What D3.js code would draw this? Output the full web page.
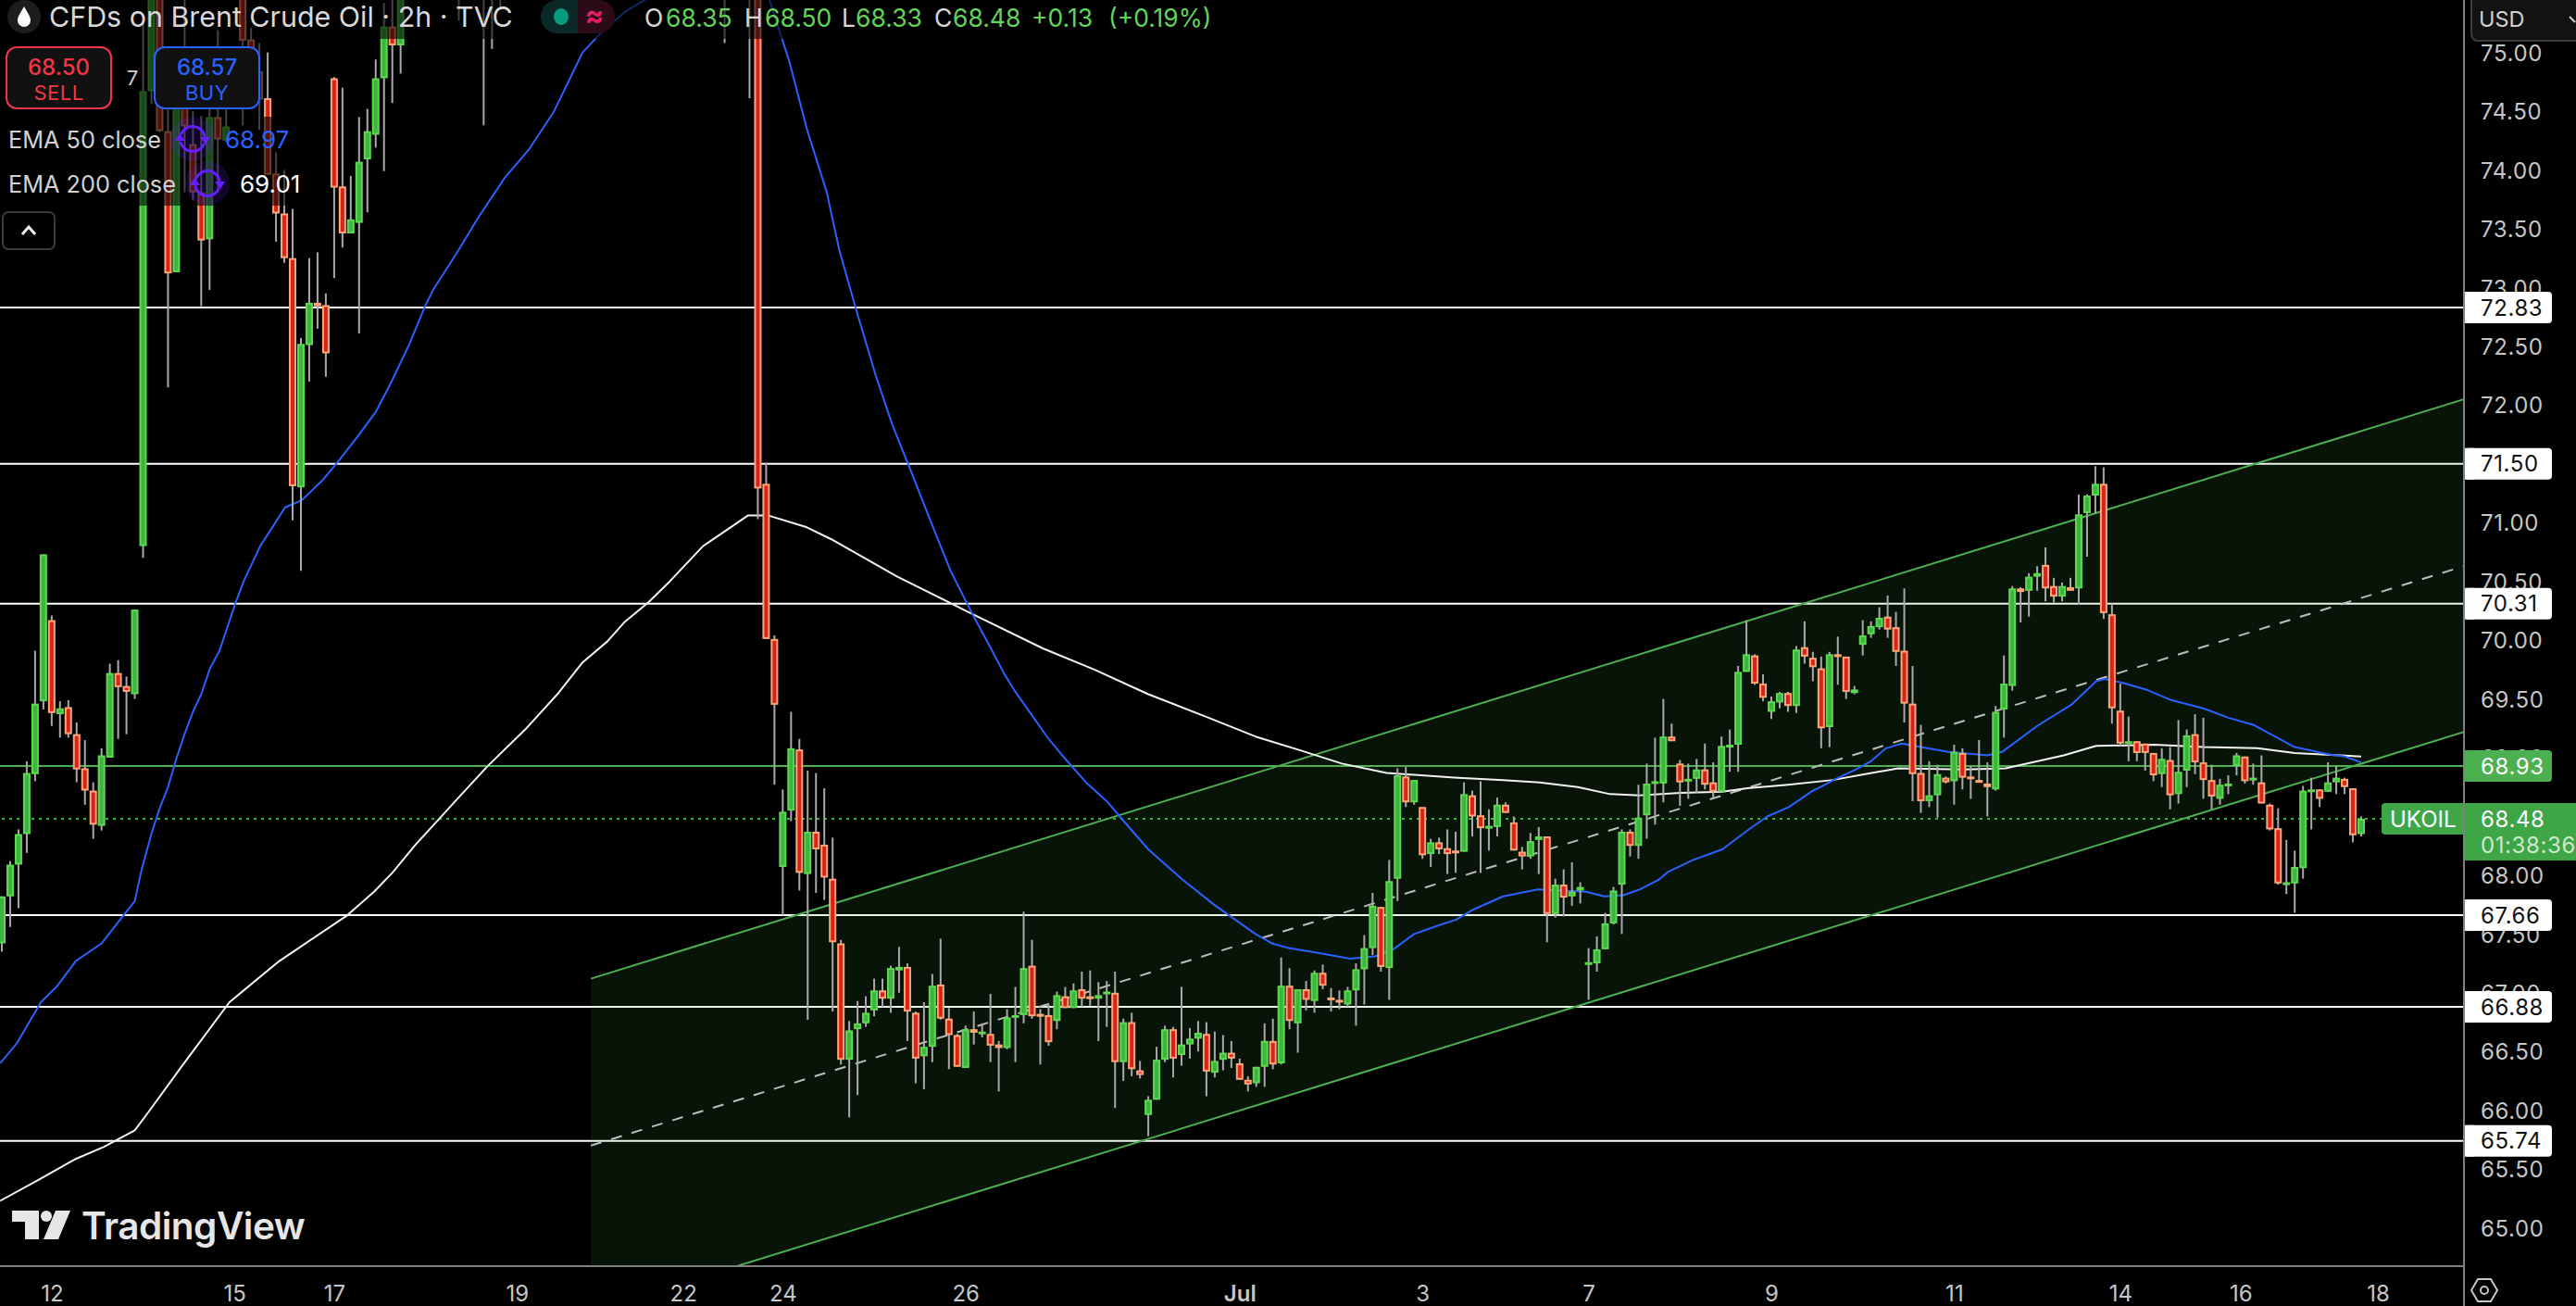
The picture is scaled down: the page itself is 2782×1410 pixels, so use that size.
<!DOCTYPE html>
<html>
<head>
<meta charset="utf-8">
<title>UKOIL 2h</title>
<script src="https://cdn.jsdelivr.net/npm/d3@7"></script>
<style>
  html, body { margin: 0; background: #000; }
  svg { display: block; }
  text { font-family: Inter, "Noto Sans", sans-serif; }
</style>
</head>
<body>
<div id="chart"></div>
<script>
// candles, 2h bars, oldest first. null = bar sits above the visible range
var opens = [
  67.42,67.82,68.09,68.35,68.86,69.48,70.17,69.37,69.43,69.20,
  68.91,68.72,68.42,69.00,69.72,69.61,69.54,70.80,74.67,75.52,
  74.33,73.13,74.97,74.22,73.81,73.41,74.45,74.25,74.89,75.52,
  75.11,74.84,74.61,73.97,73.63,73.25,71.30,72.51,72.87,72.85,
  74.78,73.86,73.46,73.55,74.09,74.30,74.78,75.22,75.06,null,
  null,null,null,null,null,75.90,null,null,76.00,75.80,
  75.90,null,null,null,null,null,null,null,null,null,
  null,null,null,null,null,null,null,null,null,null,
  null,null,null,null,null,null,null,76.40,null,null,
  76.30,76.50,71.33,70.01,68.07,68.55,69.07,68.01,68.37,68.26,
  67.97,67.42,66.43,66.69,66.74,66.85,67.02,66.95,67.19,67.22,
  66.83,66.46,66.54,67.07,66.78,66.64,66.36,66.69,66.66,66.65,
  66.56,66.53,66.80,66.81,67.23,66.82,66.81,66.76,66.97,66.87,
  67.03,66.97,66.95,67.00,67.00,66.41,66.75,66.34,65.96,66.09,
  66.43,66.69,66.47,66.56,66.61,66.65,66.32,66.43,66.49,66.40,
  66.26,66.23,66.37,66.59,66.40,67.06,66.74,67.03,66.93,67.17,
  66.96,66.94,66.90,67.02,67.20,67.38,67.73,67.21,67.97,68.84,
  68.62,68.58,68.18,68.28,68.23,68.21,68.20,68.68,68.51,68.40,
  68.41,68.60,68.45,68.20,68.16,68.30,68.33,67.67,67.92,67.82,
  67.87,67.25,67.25,67.37,67.59,67.92,68.37,68.25,68.51,68.79,
  68.78,69.18,68.95,68.81,68.82,68.90,68.79,68.71,69.09,69.11,
  69.73,69.87,69.63,69.39,69.47,69.55,69.44,69.94,69.85,69.76,
  69.26,69.88,69.86,69.55,69.96,70.05,70.11,70.20,70.11,69.91,
  69.46,68.87,68.63,68.68,68.83,68.80,69.04,68.84,68.81,68.78,
  68.73,69.41,69.61,70.44,70.42,70.54,70.64,70.46,70.37,70.45,
  70.44,71.08,71.23,71.33,70.22,69.40,69.13,69.14,69.12,69.04,
  68.86,68.98,68.69,68.89,69.20,68.96,68.81,68.65,68.77,68.93,
  69.01,68.82,68.79,68.60,68.40,67.93,67.93,68.06,68.72,68.73,
  68.71,68.79,68.82,68.74,68.35
];
var highs = [
  67.82,68.12,68.39,68.97,69.91,70.73,70.21,69.48,69.49,69.30,
  69.15,68.79,69.08,69.80,69.83,69.69,70.26,75.25,75.49,75.52,
  74.52,74.82,75.45,74.50,74.46,74.52,75.19,74.52,75.05,75.52,
  75.21,75.08,75.00,74.15,74.00,73.67,72.57,73.25,73.30,72.95,
  74.79,74.70,73.95,74.45,74.52,74.94,75.42,75.49,75.52,null,
  null,null,null,null,null,76.40,null,null,76.30,76.20,
  76.40,null,null,null,null,null,null,null,null,null,
  null,null,null,null,null,null,null,null,null,null,
  null,null,null,null,null,null,null,76.60,null,null,
  76.70,76.60,71.51,70.04,68.73,69.39,69.16,68.89,68.87,68.74,
  68.32,67.45,66.76,66.93,66.97,67.12,67.12,67.23,67.39,67.25,
  66.84,66.92,67.16,67.46,66.87,66.65,66.72,66.84,66.74,66.99,
  66.59,66.86,67.05,67.69,67.45,66.86,66.90,67.01,67.05,67.08,
  67.18,67.19,67.09,67.10,67.18,66.78,66.83,66.42,66.12,66.54,
  66.72,66.71,67.05,66.70,66.76,66.75,66.67,66.64,66.59,66.44,
  66.29,66.37,66.74,66.78,67.30,67.21,67.03,67.10,67.19,67.24,
  67.04,67.02,67.05,67.25,67.49,67.85,67.73,68.13,68.91,68.92,
  68.81,68.58,68.31,68.32,68.39,68.37,68.79,68.72,68.80,68.56,
  68.66,68.62,68.50,68.24,68.36,68.41,68.33,67.97,68.05,68.11,
  67.94,67.38,67.48,67.68,67.90,68.39,68.39,68.77,68.95,69.17,
  69.50,69.29,68.98,68.95,68.99,69.12,68.96,69.18,69.24,69.78,
  70.17,69.88,69.71,69.52,69.56,69.56,69.95,70.16,69.90,69.86,
  69.90,70.03,69.86,69.61,70.17,70.16,70.28,70.38,70.24,70.44,
  69.78,69.28,68.97,68.94,68.84,69.11,69.08,68.93,69.15,68.96,
  69.44,69.87,70.46,70.45,70.57,70.63,70.79,70.53,70.49,70.53,
  71.24,71.24,71.48,71.47,70.31,69.63,69.35,69.14,69.12,69.04,
  69.08,69.09,69.32,69.24,69.37,69.34,68.94,68.82,68.85,69.04,
  69.01,68.95,69.02,68.61,68.57,68.30,68.21,68.76,68.83,68.73,
  68.96,68.93,68.83,68.74,68.50
];
var lows = [
  67.35,67.56,67.72,68.19,68.80,69.41,69.27,69.17,69.17,68.79,
  68.60,68.31,68.38,69.00,69.16,69.20,69.50,70.70,74.56,74.32,
  72.15,73.13,73.81,73.74,72.84,72.98,73.81,74.24,74.52,74.38,
  74.78,74.34,73.96,73.39,73.21,71.02,70.59,72.20,72.65,72.24,
  73.08,73.34,73.46,72.61,73.64,74.19,73.99,74.57,74.82,null,
  null,null,null,null,null,75.27,null,null,74.38,75.03,
  75.37,null,null,null,null,null,null,null,null,null,
  null,null,null,null,null,null,null,null,null,null,
  null,null,null,null,null,null,null,75.08,null,null,
  74.61,71.03,70.01,68.77,67.66,68.46,67.87,66.77,67.85,67.79,
  66.84,66.39,65.94,66.13,66.71,66.80,66.88,66.83,67.00,66.59,
  66.23,66.18,66.41,66.77,66.35,66.37,66.36,66.56,66.62,66.41,
  66.16,66.52,66.41,66.74,66.78,66.39,66.55,66.69,66.87,66.87,
  66.88,66.89,66.59,66.71,66.02,66.25,66.29,66.27,65.78,66.09,
  66.41,66.28,66.38,66.44,66.50,66.12,66.28,66.34,66.36,66.26,
  66.16,66.20,66.20,66.35,66.39,66.69,66.49,66.85,66.83,67.03,
  66.84,66.86,66.88,66.72,66.90,67.32,67.18,66.94,67.78,68.58,
  68.60,68.14,68.07,68.18,68.01,68.02,68.20,68.33,68.02,68.21,
  68.33,68.53,68.21,68.05,68.14,68.01,67.43,67.64,67.65,67.74,
  67.76,66.94,67.18,67.37,67.58,67.50,68.16,68.14,68.31,68.43,
  68.62,69.14,68.59,68.65,68.70,68.73,68.66,68.71,68.88,68.88,
  69.73,69.62,69.48,69.33,69.42,69.39,69.38,69.80,69.65,69.08,
  69.09,69.62,69.50,69.54,69.87,70.02,70.09,70.02,69.78,69.30,
  68.63,68.53,68.58,68.49,68.78,68.60,68.73,68.65,68.79,68.50,
  68.72,69.17,69.57,70.15,70.20,70.42,70.33,70.32,70.33,70.42,
  70.30,70.71,71.08,70.18,69.29,69.10,68.97,68.97,68.89,68.80,
  68.75,68.56,68.61,68.75,68.86,68.65,68.56,68.60,68.69,68.85,
  68.78,68.77,68.61,68.38,67.92,67.84,67.68,67.97,68.39,68.58,
  68.71,68.69,68.69,68.28,68.33
];
var closes = [
  67.82,68.09,68.35,68.87,69.46,70.73,69.38,69.42,69.20,68.90,
  68.72,68.43,69.02,69.72,69.60,69.56,70.26,74.67,75.49,74.33,
  73.12,74.82,74.37,73.81,73.40,74.45,74.26,74.37,74.58,75.10,
  74.83,74.60,73.96,73.63,73.25,71.31,72.52,72.87,72.84,72.44,
  73.85,73.46,73.58,74.07,74.33,74.78,75.22,75.06,75.52,null,
  null,null,null,null,null,76.10,null,null,75.80,75.90,
  76.00,null,null,null,null,null,null,null,null,null,
  null,null,null,null,null,null,null,null,null,null,
  null,null,null,null,null,null,null,76.20,null,null,
  76.50,71.29,70.01,69.45,68.54,69.08,68.02,68.37,68.22,67.98,
  67.43,66.43,66.68,66.74,66.83,67.02,66.95,67.21,67.22,66.84,
  66.44,66.54,67.06,66.78,66.64,66.37,66.69,66.66,66.67,66.55,
  66.53,66.79,66.81,67.21,66.80,66.80,66.58,66.98,66.87,67.02,
  66.95,66.96,66.98,67.01,66.41,66.75,66.35,66.30,66.09,66.43,
  66.69,66.44,66.56,66.61,66.66,66.33,66.42,66.49,66.44,66.26,
  66.22,66.37,66.59,66.39,67.06,66.76,67.03,66.94,67.17,67.06,
  66.94,66.92,67.02,67.20,67.38,67.74,67.22,67.95,68.85,68.62,
  68.81,68.17,68.28,68.22,68.18,68.20,68.69,68.50,68.40,68.42,
  68.60,68.53,68.21,68.16,68.29,68.33,67.67,67.92,67.81,67.86,
  67.90,67.26,67.37,67.59,67.87,68.37,68.25,68.49,68.78,68.80,
  69.18,69.14,68.79,68.82,68.90,68.77,68.71,69.10,69.11,69.73,
  69.88,69.63,69.51,69.48,69.55,69.44,69.92,69.86,69.77,69.25,
  69.88,69.86,69.56,69.58,70.04,70.12,70.19,70.09,69.90,69.46,
  68.86,68.63,68.68,68.86,68.79,69.05,68.83,68.82,68.79,68.75,
  69.39,69.63,70.44,70.41,70.54,70.57,70.44,70.37,70.46,70.42,
  71.07,71.23,71.33,70.23,69.42,69.12,69.14,69.04,69.04,68.85,
  68.99,68.68,68.88,69.19,68.96,68.81,68.67,68.77,68.78,69.02,
  68.80,68.83,68.61,68.39,67.93,67.94,68.07,68.72,68.73,68.65,
  68.79,68.83,68.75,68.34,68.48
];

// EMA lines at these bar positions
var ema50Bars = [-0.2,1.8,4.7,6.7,8.9,12,14,16,16.8,18,19,20,21,22,23,24,25,26.2,28.1,29.1,31.1,34.1,36.1,38.6,40.6,42.8,45,46.7,49,51,52,55,57.3,60.5,63.4,66.4,68.4,69.9,71.9,74.9,78.4,85.6,92.3,94.8,96.9,99.3,100.8,102.8,105.2,107.2,109.2,111.7,114.2,116.7,119.2,120.6,122,124.1,126,128,130.5,133,134.8,138,142,145.9,150.9,152.9,154.9,158.4,162.3,165.3,167.5,170,172.8,175,177.2,180.7,184.9,187.7,190.7,192.9,195.2,197.2,199.4,200.6,203.6,207.1,210.1,212.5,215.1,218,219.2,220.5,223.2,225,226.8,228.7,231,234.3,239,240.8,245,249.1,252.1,253.1,255.1,258.1,261.1,265,268,271,273.1,276,280,282,284];
var ema50Values = [66.40,66.57,66.92,67.06,67.27,67.42,67.60,67.78,68.04,68.35,68.57,68.75,68.99,69.20,69.39,69.54,69.75,69.91,70.31,70.50,70.80,71.13,71.19,71.36,71.53,71.73,71.94,72.17,72.51,72.85,72.99,73.32,73.59,73.93,74.17,74.49,74.78,75.00,75.15,75.34,75.49,75.92,75.47,74.92,74.35,73.81,73.32,72.82,72.25,71.83,71.48,71.03,70.59,70.24,69.91,69.72,69.56,69.35,69.16,68.99,68.79,68.63,68.48,68.22,67.97,67.75,67.50,67.42,67.38,67.34,67.29,67.31,67.37,67.50,67.57,67.62,67.71,67.82,67.88,67.87,67.86,67.82,67.83,67.88,67.96,68.03,68.13,68.22,68.38,68.50,68.58,68.72,68.76,68.81,68.90,68.97,69.08,69.12,69.09,69.05,69.02,69.05,69.27,69.45,69.65,69.67,69.64,69.58,69.49,69.42,69.34,69.28,69.20,69.09,69.03,69.01,68.96];
var ema200Bars = [-0.2,4.2,8.7,12.3,16,17.7,21.5,27.4,33.4,41.6,44.8,47,49.8,52,55.1,58.5,63,67,69.9,72.9,74.9,77.8,80.4,84.4,89.8,92.3,96.9,99.8,107.8,116.3,125.3,131.5,138,144.9,150.9,156.4,161.3,166.7,174.8,180.7,185.1,189.7,193.6,197.2,202.1,207.1,210.1,215,220.4,224.3,228.3,236.2,241.2,248.2,252.1,259.1,265,271.5,276,284];
var ema200Values = [65.23,65.40,65.58,65.69,65.83,65.99,66.36,66.92,67.27,67.66,67.86,68.02,68.26,68.43,68.67,68.93,69.24,69.55,69.81,69.99,70.15,70.32,70.50,70.80,71.06,71.06,70.96,70.86,70.54,70.24,69.93,69.75,69.54,69.35,69.18,69.06,68.95,68.87,68.83,68.81,68.79,68.75,68.69,68.68,68.70,68.71,68.74,68.77,68.81,68.86,68.91,68.90,68.91,69.02,69.10,69.11,69.09,69.08,69.04,69.01];

// drawn levels and the parallel channel
var whiteLevels = [72.83, 71.50, 70.31, 67.66, 66.88, 65.74];
var greenLevels = [68.93];
var lastPrice = 68.48;
var channelBars = [70.9, 296.4];
var channelUpper = [67.12, 72.05];
var channelMiddle = [65.70, 70.63];
var channelLower = [64.29, 69.22];

// axis labels
var priceTicks = [75,74.5,74,73.5,73,72.5,72,71.5,71,70.5,70,69.5,69,68.5,68,67.5,67,66.5,66,65.5,65];
var timeTickBars = [6,28,40,62,82,94,116,149,171,191,213,235,255,269.5,286];
var timeTickLabels = ['12','15','17','19','22','24','26','Jul','3','7','9','11','14','16','18'];

// header readout
var ohlcLabels = ['O','H','L','C'];
var ohlcValues = ['68.35','68.50','68.33','68.48'];
var changeLabels = ['+0.13','(+0.19%)'];

var width = 2782, height = 1410, plotRight = 2661, plotBottom = 1367;

var x = d3.scaleLinear().domain([0, 284]).range([2, 2550]);
var y = d3.scaleLinear().domain([75.446, 64.674]).range([0, plotBottom]);

var svg = d3.select('#chart').append('svg').attr('width', width).attr('height', height);

svg.append('defs').append('clipPath').attr('id', 'plot')
  .append('rect').attr('width', plotRight).attr('height', plotBottom);

var plot = svg.append('g').attr('clip-path', 'url(#plot)');

// level lines go under the channel fill, that is why they look tinted inside it
plot.selectAll('.level').data(whiteLevels).enter().append('line')
  .attr('x1', 0).attr('x2', plotRight)
  .attr('y1', y).attr('y2', y)
  .attr('stroke', '#fff').attr('stroke-width', 2);

plot.selectAll('.glevel').data(greenLevels).enter().append('line')
  .attr('x1', 0).attr('x2', plotRight)
  .attr('y1', y).attr('y2', y)
  .attr('stroke', '#4caf50').attr('stroke-width', 2);

plot.append('line')
  .attr('x1', 2).attr('x2', 2572)
  .attr('y1', y(lastPrice)).attr('y2', y(lastPrice))
  .attr('stroke', '#3fa648').attr('stroke-width', 2)
  .attr('stroke-dasharray', '3 5');

// channel
var channelArea = d3.area()
  .x(function(d) { return x(d); })
  .y0(function(d, i) { return y(channelUpper[i]); })
  .y1(function(d, i) { return y(channelLower[i]); });

plot.append('path').attr('d', channelArea(channelBars))
  .attr('fill', '#4caf50').attr('fill-opacity', 0.115);

function channelLine(values, colour, dash) {
  var line = d3.line()
    .x(function(d) { return x(d); })
    .y(function(d, i) { return y(values[i]); });
  plot.append('path').attr('d', line(channelBars))
    .attr('fill', 'none').attr('stroke', colour).attr('stroke-width', 2)
    .attr('stroke-dasharray', dash);
}
channelLine(channelUpper, '#4caf50', null);
channelLine(channelLower, '#4caf50', null);
channelLine(channelMiddle, '#bdbdbd', '12 11');

// EMAs
function emaLine(bars, values, colour) {
  var line = d3.line()
    .x(function(d) { return x(d); })
    .y(function(d, i) { return y(values[i]); });
  plot.append('path').attr('d', line(bars))
    .attr('fill', 'none').attr('stroke', colour).attr('stroke-width', 2)
    .attr('stroke-linejoin', 'round');
}
emaLine(ema200Bars, ema200Values, '#f2f2f2');
emaLine(ema50Bars, ema50Values, '#2962ff');

// candles
var barIndex = d3.range(opens.length).filter(function(i) { return opens[i] !== null; });

plot.selectAll('.wick').data(barIndex).enter().append('line')
  .attr('x1', function(i) { return x(i); })
  .attr('x2', function(i) { return x(i); })
  .attr('y1', function(i) { return y(highs[i]); })
  .attr('y2', function(i) { return y(lows[i]); })
  .attr('stroke', '#a9a9a9').attr('stroke-width', 2);

plot.selectAll('.body').data(barIndex).enter().append('rect')
  .attr('x', function(i) { return x(i) - 3; })
  .attr('width', 6)
  .attr('y', function(i) { return y(Math.max(opens[i], closes[i])) + 1; })
  .attr('height', function(i) { return Math.max(1, Math.abs(y(opens[i]) - y(closes[i])) - 2); })
  .attr('fill', function(i) { return closes[i] >= opens[i] ? '#3fb342' : '#d9221a'; })
  .attr('stroke', function(i) { return closes[i] >= opens[i] ? '#5cd94f' : '#ffa678'; })
  .attr('stroke-width', 2);

// legend backdrop dims whatever runs beneath the header
var dim = svg.append('g').attr('fill', '#000').attr('fill-opacity', 0.6);
dim.append('rect').attr('width', 1330).attr('height', 42);
dim.append('rect').attr('y', 42).attr('width', 285).attr('height', 84);
dim.append('rect').attr('y', 126).attr('width', 335).attr('height', 96);

// axes
var yAxis = d3.axisRight(y).tickValues(priceTicks).tickFormat(d3.format('.2f')).tickSize(0).tickPadding(18);
var xAxis = d3.axisBottom(x).tickValues(timeTickBars)
  .tickFormat(function(d, i) { return timeTickLabels[i]; }).tickSize(0).tickPadding(18);

var yG = svg.append('g').attr('transform', 'translate(' + plotRight + ',0)').call(yAxis);
var xG = svg.append('g').attr('transform', 'translate(0,' + plotBottom + ')').call(xAxis);
yG.select('.domain').remove();
xG.select('.domain').remove();
yG.selectAll('text').attr('font-size', 24).attr('fill', '#c6c6c6').attr('letter-spacing', 0.6)
  .style('font-family', 'Inter').attr('dy', '0.36em');
xG.selectAll('text').attr('font-size', 24).attr('fill', '#c6c6c6')
  .style('font-family', 'Inter').attr('font-weight', function(d, i) { return timeTickLabels[i] === 'Jul' ? 600 : 400; })
  .attr('y', 38).attr('dy', 0);

svg.append('line').attr('x1', plotRight).attr('x2', plotRight).attr('y1', 0).attr('y2', height)
  .attr('stroke', '#808080').attr('stroke-width', 2);
svg.append('line').attr('x1', 0).attr('x2', plotRight).attr('y1', plotBottom).attr('y2', plotBottom)
  .attr('stroke', '#808080').attr('stroke-width', 2);

// price tags on the axis
function priceTag(value, fill, colour) {
  var g = svg.append('g').attr('transform', 'translate(2662,' + y(value) + ')');
  g.append('rect').attr('y', -17).attr('width', 94).attr('height', 34).attr('rx', 4).attr('fill', fill);
  g.append('rect').attr('y', -17).attr('width', 10).attr('height', 34).attr('fill', fill);
  g.append('text').attr('x', 17).attr('dy', '0.36em')
    .attr('font-size', 24).attr('letter-spacing', 0.6).attr('fill', colour)
    .text(d3.format('.2f')(value));
}
whiteLevels.forEach(function(d) { priceTag(d, '#fff', '#111'); });
greenLevels.forEach(function(d) { priceTag(d, '#4caf50', '#fff'); });

// last price block with the symbol tag and countdown
var lastY = y(lastPrice);
svg.append('rect').attr('x', 2662).attr('y', lastY - 17).attr('width', 120).attr('height', 62).attr('fill', '#3fa648');
svg.append('rect').attr('x', 2572).attr('y', lastY - 17).attr('width', 88).attr('height', 34).attr('rx', 4).attr('fill', '#3fa648');
svg.append('rect').attr('x', 2600).attr('y', lastY - 17).attr('width', 60).attr('height', 34).attr('fill', '#3fa648');
svg.append('text').attr('x', 2581).attr('y', lastY).attr('dy', '0.36em')
  .attr('font-size', 24).attr('fill', '#fff').text('UKOIL');
svg.append('text').attr('x', 2679).attr('y', lastY).attr('dy', '0.36em')
  .attr('font-size', 24).attr('letter-spacing', 0.6).attr('fill', '#fff').text(d3.format('.2f')(lastPrice));
svg.append('text').attr('x', 2679).attr('y', lastY + 28).attr('dy', '0.36em')
  .attr('font-size', 24).attr('letter-spacing', 0.6).attr('fill', '#cfe8d0').text('01:38:36');

// USD box
svg.append('path').attr('d', 'M2782,44 H2677 Q2669,44 2669,36 V-2 H2782')
  .attr('fill', '#121212').attr('stroke', '#3d3d3d').attr('stroke-width', 2);
svg.append('text').attr('x', 2677).attr('y', 21).attr('dy', '0.36em')
  .attr('font-size', 23.5).attr('fill', '#d0d0d0').text('USD');
svg.append('path').attr('d', 'M2775,18 L2781,24').attr('stroke', '#d0d0d0').attr('stroke-width', 2).attr('fill', 'none');

// settings hexagon, bottom right
var hexPoints = d3.range(6).map(function(k) {
  var a = Math.PI / 3 * k;
  return [2683 + 14 * Math.cos(a), 1393 + 14 * Math.sin(a)];
});
svg.append('path').attr('d', d3.line()(hexPoints) + 'Z').attr('fill', 'none').attr('stroke', '#c6c6c6').attr('stroke-width', 2);
svg.append('circle').attr('cx', 2683).attr('cy', 1393).attr('r', 4).attr('fill', 'none').attr('stroke', '#c6c6c6').attr('stroke-width', 2);

// header
svg.append('circle').attr('cx', 26).attr('cy', 18).attr('r', 18).attr('fill', '#1d1d1d');
svg.append('path').attr('d', 'M26,7 C30,14 33,18 33,22 A7,7 0 0 1 19,22 C19,18 22,14 26,7 Z').attr('fill', '#fff');
svg.append('text').attr('x', 53).attr('y', 29).attr('font-size', 30.4).attr('fill', '#d8d8d8')
  .text('CFDs on Brent Crude Oil · 2h · TVC');

svg.append('path').attr('d', 'M624,0 H602 A18,18 0 0 0 602,36 H624 Z').attr('fill', '#0b2a27');
svg.append('path').attr('d', 'M624,0 H646 A18,18 0 0 1 646,36 H624 Z').attr('fill', '#2c0a18');
svg.append('ellipse').attr('cx', 606).attr('cy', 18).attr('rx', 8).attr('ry', 9).attr('fill', '#089981');
svg.append('text').attr('x', 642).attr('y', 19).attr('text-anchor', 'middle').attr('dominant-baseline', 'middle')
  .attr('font-size', 30).attr('font-weight', 700).attr('fill', '#e91e63').text('≈');

var ohlcLabelX = [696, 804, 909, 1009];
var ohlcValueX = [719, 826, 924, 1029];
ohlcLabels.forEach(function(d, i) {
  svg.append('text').attr('x', ohlcLabelX[i]).attr('y', 29).attr('font-size', 26.5).attr('fill', '#d8d8d8').text(d);
  svg.append('text').attr('x', ohlcValueX[i]).attr('y', 29).attr('font-size', 26.5).attr('fill', '#62d458').text(ohlcValues[i]);
});
var changeX = [1114, 1197];
changeLabels.forEach(function(d, i) {
  svg.append('text').attr('x', changeX[i]).attr('y', 29).attr('font-size', 26.5).attr('fill', '#62d458').text(d);
});

// buy and sell buttons
function tradeButton(left, colour, price, label) {
  svg.append('rect').attr('x', left).attr('y', 51).attr('width', 113).attr('height', 66).attr('rx', 11)
    .attr('fill', '#111').attr('stroke', colour).attr('stroke-width', 2);
  svg.append('text').attr('x', left + 56.5).attr('y', 72).attr('dy', '0.36em').attr('text-anchor', 'middle')
    .attr('font-size', 24).attr('font-weight', 500).attr('fill', colour).text(price);
  svg.append('text').attr('x', left + 56.5).attr('y', 100).attr('dy', '0.36em').attr('text-anchor', 'middle')
    .attr('font-size', 22).attr('letter-spacing', 0.5).attr('fill', colour).text(label);
}
tradeButton(7, '#f23645', '68.50', 'SELL');
tradeButton(167, '#2962ff', '68.57', 'BUY');
svg.append('text').attr('x', 143).attr('y', 84).attr('dy', '0.36em').attr('text-anchor', 'middle')
  .attr('font-size', 22).attr('fill', '#cfcfcf').text('7');

// indicator rows
function spinner(cx, cy) {
  svg.append('circle').attr('cx', cx).attr('cy', cy).attr('r', 24).attr('fill', '#6a1fff').attr('fill-opacity', 0.16);
  var arc = d3.arc().innerRadius(12).outerRadius(15);
  var g = svg.append('g').attr('transform', 'translate(' + cx + ',' + cy + ')').attr('fill', '#651fff');
  g.append('path').attr('d', arc({startAngle: -1.2, endAngle: 1.4}));
  g.append('path').attr('d', arc({startAngle: 1.95, endAngle: 4.5}));
  g.append('path').attr('d', 'M8,-2 L19,-2 L14,6 Z');
  g.append('path').attr('d', 'M-8,2 L-19,2 L-14,-6 Z');
}
function indicatorRow(label, rowY, iconX, value, valueX, colour) {
  svg.append('text').attr('x', 9).attr('y', rowY).attr('dy', '0.36em')
    .attr('font-size', 25.3).attr('fill', '#d2d2d2').text(label);
  spinner(iconX, rowY - 1);
  svg.append('text').attr('x', valueX).attr('y', rowY).attr('dy', '0.36em')
    .attr('font-size', 26).attr('fill', colour).text(value);
}
indicatorRow('EMA 50 close', 151, 208, '68.97', 243, '#2962ff');
indicatorRow('EMA 200 close', 199, 224, '69.01', 259, '#ffffff');

svg.append('rect').attr('x', 3).attr('y', 229).attr('width', 56).attr('height', 40).attr('rx', 6)
  .attr('fill', '#000').attr('stroke', '#3a3a3a').attr('stroke-width', 2);
svg.append('path').attr('d', 'M24,253 L31,245 L38,253').attr('fill', 'none').attr('stroke', '#eee').attr('stroke-width', 3);

// TradingView watermark
var mark = svg.append('g').attr('fill', '#e6e6e6');
mark.append('path').attr('d', 'M13,1307 H42 V1338 H27 V1319 H13 Z');
mark.append('circle').attr('cx', 50).attr('cy', 1313).attr('r', 6);
mark.append('path').attr('d', 'M60,1307 H76 L63,1338 H47 Z');
svg.append('text').attr('x', 88).attr('y', 1338).attr('font-size', 40.5).attr('font-weight', 600)
  .attr('letter-spacing', -0.5).attr('fill', '#e6e6e6')
  .text('TradingView');
</script>
</body>
</html>
